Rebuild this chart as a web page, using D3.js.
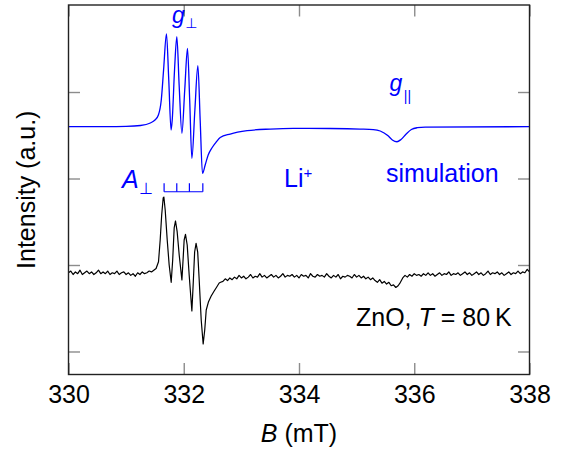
<!DOCTYPE html>
<html><head><meta charset="utf-8">
<script src="https://cdn.jsdelivr.net/npm/d3@7"></script>
<style>
html,body{margin:0;padding:0;background:#fff;}
svg text{font-family:"Liberation Sans",Arial,Helvetica,sans-serif;}
</style></head>
<body>
<svg id="chart" width="574" height="456"></svg>
<script>
// ---- data ----
const xTicks = [330, 332, 334, 336, 338];
const yTicks = [0, 1, 2, 3];
// simulated spectrum [B (mT), intensity (a.u.)]
const simulation = [
[330.00,2.599],[330.60,2.600],[331.00,2.603],[331.25,2.613],[331.42,2.642],[331.50,2.676],
[331.56,2.734],[331.61,2.908],[331.65,3.254],[331.70,3.671],[331.74,3.139],[331.78,2.561],
[331.80,2.676],[331.84,3.254],[331.88,3.639],[331.92,3.081],[331.968,2.523],[332.017,3.023],
[332.065,3.505],[332.103,2.908],[332.141,2.234],[332.193,2.792],[332.245,3.304],[332.285,2.676],
[332.325,2.060],[332.372,2.156],[332.424,2.272],[332.488,2.353],[332.563,2.422],[332.633,2.474],
[332.806,2.514],[333.10,2.553],[333.50,2.572],[333.90,2.580],[334.54,2.578],[335.06,2.572],
[335.29,2.566],[335.41,2.549],[335.54,2.497],[335.62,2.445],[335.70,2.425],[335.77,2.451],
[335.86,2.514],[335.95,2.566],[336.05,2.587],[336.19,2.595],[338.00,2.599]
];
// measured spectrum, ZnO at 80 K [B (mT), intensity (a.u.)]
const measured = [
[330.00,0.91],[330.04,0.93],[330.08,0.89],[330.12,0.92],[330.16,0.90],[330.20,0.94],[330.24,0.89],
[330.28,0.91],[330.32,0.93],[330.36,0.90],[330.40,0.92],[330.44,0.89],[330.48,0.91],[330.52,0.94],
[330.56,0.90],[330.60,0.92],[330.64,0.90],[330.68,0.93],[330.72,0.89],[330.76,0.91],[330.80,0.90],
[330.84,0.93],[330.88,0.89],[330.92,0.91],[330.96,0.92],[331.00,0.89],[331.04,0.91],[331.08,0.88],
[331.12,0.90],[331.16,0.87],[331.20,0.91],[331.24,0.89],[331.28,0.92],[331.32,0.90],[331.36,0.91],
[331.40,0.93],[331.44,0.92],[331.48,0.94],[331.52,0.96],
[331.562,1.038],[331.591,1.289],[331.617,1.578],[331.643,1.775],[331.655,1.786],[331.678,1.636],
[331.713,1.289],[331.747,1.000],[331.782,0.800],[331.808,1.058],[331.834,1.428],[331.857,1.509],
[331.886,1.382],[331.921,1.116],[331.968,0.827],[331.990,1.081],[332.007,1.289],[332.030,1.355],
[332.060,1.231],[332.094,0.884],[332.141,0.468],[332.163,0.769],[332.189,1.150],[332.214,1.251],
[332.242,1.150],[332.268,0.827],[332.303,0.364],[332.337,0.087],[332.364,0.249],[332.390,0.480],
[332.430,0.576],[332.476,0.642],[332.528,0.699],[332.575,0.749],[332.615,0.792],
[332.64,0.80],[332.68,0.81],[332.72,0.84],[332.76,0.82],[332.80,0.85],[332.84,0.83],[332.88,0.86],
[332.92,0.84],[332.96,0.88],[333.00,0.85],[333.04,0.87],[333.08,0.84],[333.12,0.86],[333.16,0.89],
[333.20,0.85],[333.24,0.87],[333.28,0.86],[333.32,0.90],[333.36,0.86],[333.40,0.88],[333.44,0.85],
[333.48,0.87],[333.52,0.89],[333.56,0.86],[333.60,0.88],[333.64,0.85],[333.68,0.87],[333.72,0.90],
[333.76,0.86],[333.80,0.88],[333.84,0.87],[333.88,0.89],[333.92,0.86],[333.96,0.88],[334.00,0.85],
[334.04,0.89],[334.08,0.87],[334.12,0.88],[334.16,0.85],[334.20,0.90],[334.24,0.87],[334.28,0.86],
[334.32,0.89],[334.36,0.87],[334.40,0.88],[334.44,0.86],[334.48,0.90],[334.52,0.87],[334.56,0.85],
[334.60,0.88],[334.64,0.86],[334.68,0.89],[334.72,0.84],[334.76,0.87],[334.80,0.86],[334.84,0.88],
[334.88,0.87],[334.92,0.85],[334.96,0.89],[335.00,0.86],[335.04,0.88],[335.08,0.85],[335.12,0.87],
[335.16,0.84],[335.20,0.86],[335.24,0.83],[335.28,0.85],[335.32,0.82],[335.36,0.80],[335.40,0.83],
[335.44,0.79],[335.48,0.81],[335.52,0.78],[335.56,0.80],[335.60,0.76],[335.64,0.77],[335.68,0.74],
[335.72,0.76],[335.76,0.80],[335.80,0.85],[335.84,0.88],[335.88,0.86],[335.92,0.89],[335.96,0.87],
[336.00,0.90],[336.04,0.88],[336.08,0.89],[336.12,0.87],[336.16,0.90],[336.20,0.88],[336.24,0.91],
[336.28,0.88],[336.32,0.90],[336.36,0.87],[336.40,0.89],[336.44,0.91],[336.48,0.88],[336.52,0.90],
[336.56,0.89],[336.60,0.92],[336.64,0.88],[336.68,0.90],[336.72,0.89],[336.76,0.91],[336.80,0.88],
[336.84,0.90],[336.88,0.92],[336.92,0.89],[336.96,0.91],[337.00,0.88],[337.04,0.90],[337.08,0.92],
[337.12,0.89],[337.16,0.91],[337.20,0.88],[337.24,0.90],[337.28,0.93],[337.32,0.89],[337.36,0.91],
[337.40,0.90],[337.44,0.92],[337.48,0.89],[337.52,0.91],[337.56,0.88],[337.60,0.90],[337.64,0.92],
[337.68,0.89],[337.72,0.91],[337.76,0.90],[337.80,0.93],[337.84,0.90],[337.88,0.92],[337.92,0.91],
[337.96,0.95],[338.00,0.92]
];
// 7Li hyperfine stick positions (mT) and comb levels (a.u.)
const hfLines = [331.659, 331.879, 332.098, 332.331];
const combLevels = [1.847, 1.945];

// ---- layout ----
const svg = d3.select("#chart");
const L = 68.5, R = 529.5, T = 5, B = 374.5;
const x = d3.scaleLinear().domain([330, 338]).range([L, R]);
const y = d3.scaleLinear().domain([-0.266, 4.006]).range([B, T]);
const blue = "#0000ff";

function styleAxis(g){
  g.selectAll(".tick line").attr("stroke", "#8c8c8c").attr("stroke-width", 1.4);
  g.select(".domain").remove();
}
// axes with inward ticks
const gxb = svg.append("g").attr("transform", `translate(0,${B})`)
  .call(d3.axisBottom(x).tickValues(xTicks).tickSizeInner(-11.5).tickSizeOuter(0).tickPadding(11).tickFormat(d3.format("d")));
styleAxis(gxb);
gxb.selectAll("text").attr("font-size", 25).attr("fill", "#000")
  .attr("font-family", '"Liberation Sans",Arial,sans-serif');
const gxt = svg.append("g").attr("transform", `translate(0,${T})`)
  .call(d3.axisTop(x).tickValues(xTicks).tickSizeInner(-11.5).tickSizeOuter(0).tickFormat(""));
styleAxis(gxt);
const gyl = svg.append("g").attr("transform", `translate(${L},0)`)
  .call(d3.axisLeft(y).tickValues(yTicks).tickSizeInner(-11.5).tickSizeOuter(0).tickFormat(""));
styleAxis(gyl);
const gyr = svg.append("g").attr("transform", `translate(${R},0)`)
  .call(d3.axisRight(y).tickValues(yTicks).tickSizeInner(-11.5).tickSizeOuter(0).tickFormat(""));
styleAxis(gyr);

// curves
const simLine = d3.line().x(d => x(d[0])).y(d => y(d[1])).curve(d3.curveMonotoneX);
const expLine = d3.line().x(d => x(d[0])).y(d => y(d[1])).curve(d3.curveLinear);
svg.append("path").datum(simulation).attr("d", simLine)
  .attr("fill", "none").attr("stroke", blue).attr("stroke-width", 1.3);
svg.append("path").datum(measured).attr("d", expLine)
  .attr("fill", "none").attr("stroke", "#000").attr("stroke-width", 1.2).attr("stroke-linejoin", "round");

// hyperfine comb
svg.append("line").attr("x1", x(hfLines[0])).attr("x2", x(hfLines[hfLines.length-1]))
  .attr("y1", y(combLevels[0])).attr("y2", y(combLevels[0]))
  .attr("stroke", blue).attr("stroke-width", 1.2);
svg.selectAll(".hf").data(hfLines).enter().append("line")
  .attr("x1", d => x(d)).attr("x2", d => x(d))
  .attr("y1", y(combLevels[0])).attr("y2", y(combLevels[1]))
  .attr("stroke", blue).attr("stroke-width", 1.2);

// frame
svg.append("rect").attr("x", L).attr("y", T).attr("width", R - L).attr("height", B - T)
  .attr("fill", "none").attr("stroke", "#222").attr("stroke-width", 1.4);

// annotations
const t1 = svg.append("text").attr("x", 172).attr("y", 22.5).attr("fill", blue).attr("font-size", 23);
t1.append("tspan").attr("font-style", "italic").text("g");
t1.append("tspan").attr("font-family", '"DejaVu Sans",sans-serif').attr("font-size", 14).attr("dx", 0.5).attr("dy", 5).text("⊥");

const t2 = svg.append("text").attr("x", 389.5).attr("y", 91).attr("fill", blue).attr("font-size", 23);
t2.append("tspan").attr("font-style", "italic").text("g");
t2.append("tspan").attr("font-size", 14).attr("dx", 1.5).attr("dy", 10).text("||");

const t3 = svg.append("text").attr("x", 122).attr("y", 188.3).attr("fill", blue).attr("font-size", 25);
t3.append("tspan").attr("font-style", "italic").text("A");
t3.append("tspan").attr("font-family", '"DejaVu Sans",sans-serif').attr("font-size", 16).attr("dx", 0.5).attr("dy", 5.5).text("⊥");

const t4 = svg.append("text").attr("x", 284).attr("y", 186.7).attr("fill", blue).attr("font-size", 25);
t4.append("tspan").text("Li");
t4.append("tspan").attr("font-size", 15).attr("dy", -9).text("+");

svg.append("text").attr("x", 386).attr("y", 181.7).attr("fill", blue).attr("font-size", 25).text("simulation");

const t5 = svg.append("text").attr("x", 356).attr("y", 326).attr("fill", "#000").attr("font-size", 25);
t5.append("tspan").text("ZnO, ");
t5.append("tspan").attr("font-style", "italic").text("T");
t5.append("tspan").text(" = 80\u2009K");

const t6 = svg.append("text").attr("x", (L + R) / 2).attr("y", 441.7).attr("text-anchor", "middle")
  .attr("fill", "#000").attr("font-size", 25);
t6.append("tspan").attr("font-style", "italic").text("B");
t6.append("tspan").text(" (mT)");

svg.append("text").attr("transform", `translate(35,${(T + B) / 2}) rotate(-90)`)
  .attr("text-anchor", "middle").attr("fill", "#000").attr("font-size", 25).text("Intensity (a.u.)");
</script>
</body></html>
